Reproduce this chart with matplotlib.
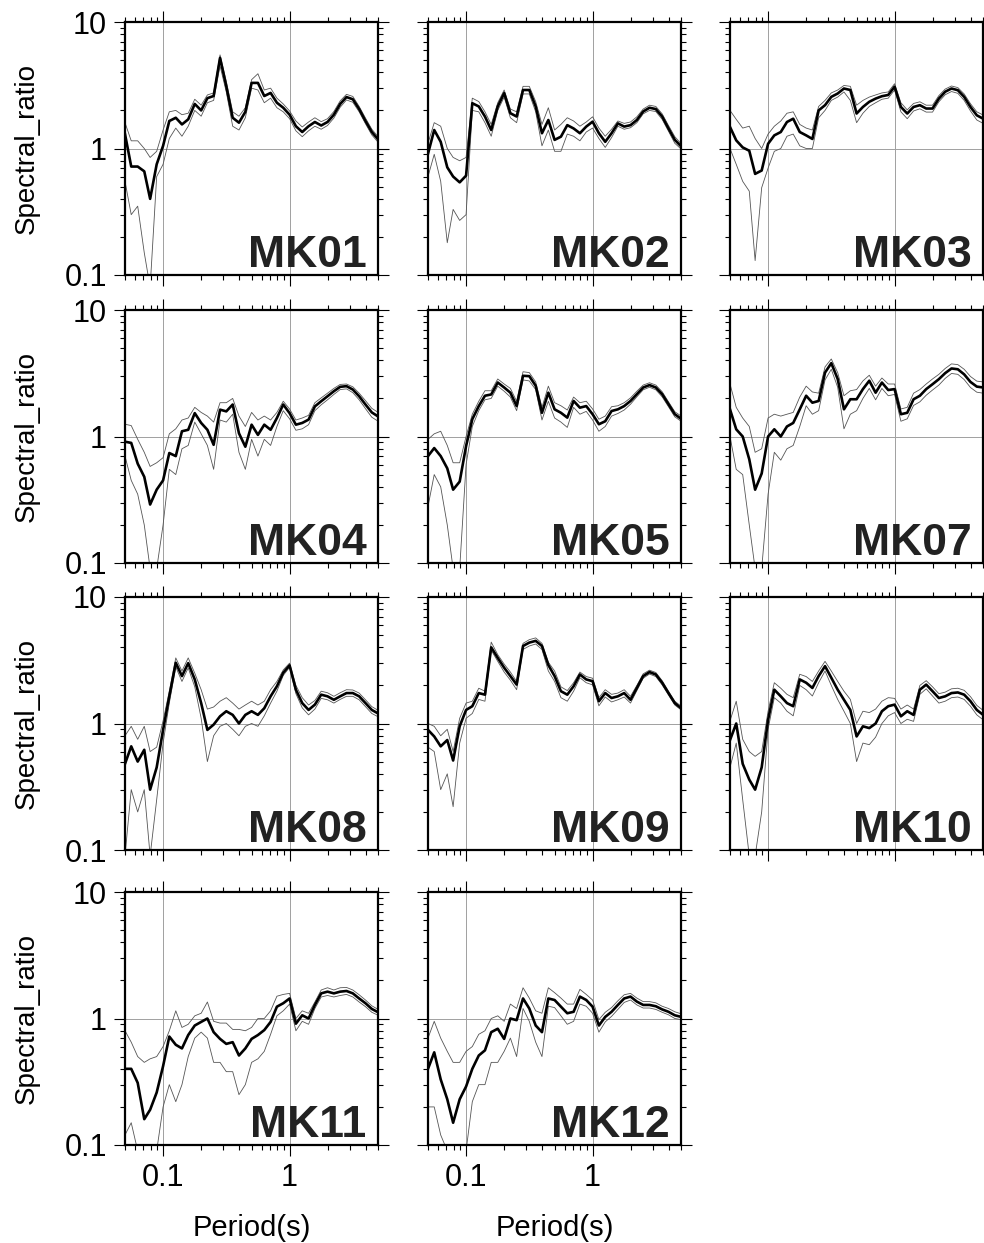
import matplotlib
matplotlib.use('Agg')
import matplotlib.pyplot as plt
from matplotlib.ticker import LogLocator, NullFormatter

plt.rcParams['font.family'] = ['Liberation Sans', 'DejaVu Sans']

# period axis (s), shared by all stations
period = [0.050, 0.056, 0.063, 0.071, 0.079, 0.089, 0.100, 0.112, 0.126, 0.141,
          0.158, 0.178, 0.200, 0.224, 0.251, 0.282, 0.316, 0.355, 0.398, 0.447,
          0.501, 0.562, 0.631, 0.708, 0.794, 0.891, 1.000, 1.122, 1.259, 1.413,
          1.585, 1.778, 1.995, 2.239, 2.512, 2.818, 3.162, 3.548, 3.981, 4.467,
          5.012]

mk01_mean = [1.3, 0.72, 0.72, 0.66, 0.40, 0.75, 1.05, 1.65, 1.75, 1.55, 1.7, 2.25, 2.0, 2.5, 2.6, 5.2, 3.1, 1.75, 1.6, 1.95, 3.3, 3.3, 2.6, 2.75, 2.3, 2.1, 1.85, 1.5, 1.35, 1.5, 1.62, 1.52, 1.62, 1.85, 2.25, 2.55, 2.45, 2.05, 1.65, 1.35, 1.18]
mk01_upper = [1.6, 1.15, 1.15, 1.0, 0.85, 0.95, 1.4, 1.95, 2.0, 1.85, 1.9, 2.45, 2.2, 2.65, 2.75, 5.5, 3.4, 1.95, 1.8, 2.1, 3.5, 3.9, 2.9, 3.0, 2.5, 2.25, 1.98, 1.65, 1.48, 1.62, 1.75, 1.63, 1.72, 1.96, 2.38, 2.68, 2.58, 2.15, 1.74, 1.42, 1.24]
mk01_lower = [0.55, 0.3, 0.35, 0.15, 0.08, 0.6, 0.75, 1.2, 1.45, 1.25, 1.5, 2.0, 1.8, 2.3, 2.4, 4.5, 2.8, 1.5, 1.4, 1.75, 3.0, 2.9, 2.3, 2.5, 2.1, 1.95, 1.72, 1.38, 1.24, 1.38, 1.5, 1.42, 1.52, 1.74, 2.12, 2.42, 2.32, 1.95, 1.57, 1.28, 1.12]

mk02_mean = [0.91, 1.4, 1.13, 0.71, 0.6, 0.54, 0.61, 2.28, 2.15, 1.79, 1.4, 2.15, 2.74, 1.9, 1.79, 2.9, 2.9, 2.15, 1.32, 1.68, 1.17, 1.24, 1.53, 1.44, 1.32, 1.49, 1.63, 1.32, 1.13, 1.32, 1.58, 1.49, 1.53, 1.68, 1.96, 2.1, 2.05, 1.79, 1.44, 1.17, 1.04]
mk02_upper = [1.1, 1.6, 1.5, 1.0, 0.85, 0.8, 0.85, 2.5, 2.35, 1.95, 1.55, 2.3, 2.9, 2.05, 1.95, 3.1, 3.1, 2.35, 1.55, 2.1, 1.4, 1.55, 1.75, 1.65, 1.5, 1.62, 1.78, 1.45, 1.25, 1.42, 1.65, 1.58, 1.62, 1.78, 2.05, 2.2, 2.15, 1.88, 1.52, 1.24, 1.09]
mk02_lower = [0.6, 0.9, 0.55, 0.18, 0.33, 0.27, 0.3, 2.0, 1.95, 1.6, 1.25, 2.0, 2.55, 1.75, 1.6, 2.7, 2.7, 1.95, 1.05, 1.4, 0.95, 0.95, 1.3, 1.25, 1.15, 1.35, 1.45, 1.2, 1.02, 1.22, 1.5, 1.42, 1.46, 1.6, 1.88, 2.0, 1.96, 1.7, 1.37, 1.1, 0.99]

mk03_mean = [1.48, 1.16, 1.02, 0.96, 0.63, 0.67, 1.09, 1.27, 1.35, 1.62, 1.72, 1.35, 1.27, 1.19, 2.0, 2.2, 2.56, 2.72, 2.98, 2.9, 1.89, 2.13, 2.34, 2.48, 2.59, 2.65, 3.08, 2.13, 1.89, 2.13, 2.2, 2.07, 2.07, 2.48, 2.81, 2.98, 2.89, 2.56, 2.13, 1.83, 1.72]
mk03_upper = [2.0, 1.7, 1.45, 1.5, 1.2, 1.0, 1.3, 1.5, 1.65, 1.9, 1.95, 1.55, 1.45, 1.4, 2.15, 2.4, 2.75, 2.9, 3.15, 3.1, 2.2, 2.4, 2.55, 2.65, 2.75, 2.8, 3.25, 2.3, 2.02, 2.27, 2.34, 2.2, 2.2, 2.62, 2.95, 3.12, 3.03, 2.7, 2.26, 1.95, 1.84]
mk03_lower = [1.0, 0.75, 0.55, 0.46, 0.13, 0.49, 0.7, 0.95, 1.0, 1.25, 1.3, 1.05, 1.0, 1.0, 1.75, 2.0, 2.4, 2.55, 2.8, 2.4, 1.6, 1.9, 2.15, 2.3, 2.45, 2.5, 2.9, 1.95, 1.72, 1.98, 2.06, 1.94, 1.94, 2.34, 2.66, 2.82, 2.73, 2.4, 1.98, 1.68, 1.58]

mk04_mean = [0.91, 0.89, 0.61, 0.48, 0.29, 0.38, 0.45, 0.74, 0.7, 1.1, 1.13, 1.53, 1.28, 1.13, 0.86, 1.63, 1.58, 1.79, 1.06, 0.83, 1.24, 1.03, 1.24, 1.13, 1.4, 1.79, 1.53, 1.24, 1.28, 1.36, 1.73, 1.9, 2.08, 2.28, 2.47, 2.5, 2.35, 2.08, 1.79, 1.55, 1.44]
mk04_upper = [1.25, 1.22, 0.95, 0.75, 0.58, 0.62, 0.68, 1.05, 1.15, 1.35, 1.4, 1.7, 1.55, 1.45, 1.3, 1.85, 1.85, 2.0, 1.45, 1.2, 1.55, 1.35, 1.45, 1.35, 1.55, 1.9, 1.65, 1.35, 1.4, 1.47, 1.85, 2.02, 2.2, 2.4, 2.58, 2.6, 2.47, 2.2, 1.92, 1.67, 1.55]
mk04_lower = [0.7, 0.45, 0.35, 0.2, 0.09, 0.09, 0.2, 0.55, 0.5, 0.8, 0.85, 1.3, 1.05, 0.85, 0.55, 1.35, 1.3, 1.5, 0.75, 0.55, 0.95, 0.7, 0.95, 0.85, 1.2, 1.6, 1.38, 1.12, 1.15, 1.24, 1.6, 1.78, 1.95, 2.15, 2.35, 2.38, 2.22, 1.95, 1.66, 1.42, 1.32]

mk05_mean = [0.70, 0.81, 0.70, 0.56, 0.38, 0.44, 0.84, 1.37, 1.74, 2.1, 2.15, 2.67, 2.44, 2.22, 1.74, 3.02, 3.0, 2.52, 1.54, 2.22, 1.64, 1.54, 1.41, 1.91, 1.69, 1.74, 1.5, 1.25, 1.32, 1.59, 1.64, 1.74, 1.91, 2.16, 2.44, 2.55, 2.44, 2.16, 1.8, 1.5, 1.38]
mk05_upper = [0.95, 1.05, 1.1, 0.85, 0.62, 0.62, 1.0, 1.5, 1.9, 2.3, 2.3, 2.85, 2.6, 2.4, 1.9, 3.25, 3.2, 2.7, 1.7, 2.5, 1.85, 1.75, 1.62, 2.05, 1.85, 1.9, 1.65, 1.37, 1.45, 1.72, 1.75, 1.85, 2.02, 2.28, 2.55, 2.66, 2.55, 2.26, 1.88, 1.57, 1.45]
mk05_lower = [0.28, 0.5, 0.4, 0.2, 0.09, 0.09, 0.6, 1.2, 1.6, 1.95, 2.0, 2.5, 2.28, 2.05, 1.6, 2.8, 2.75, 2.35, 1.35, 1.9, 1.4, 1.3, 1.18, 1.7, 1.5, 1.58, 1.35, 1.1, 1.2, 1.45, 1.52, 1.62, 1.8, 2.06, 2.34, 2.45, 2.34, 2.06, 1.72, 1.43, 1.32]

mk07_mean = [1.64, 1.14, 1.0, 0.66, 0.38, 0.51, 1.0, 1.14, 1.0, 1.2, 1.28, 1.64, 2.1, 1.85, 1.91, 3.2, 3.8, 2.85, 1.64, 1.97, 1.97, 2.37, 2.76, 2.22, 2.67, 2.33, 2.37, 1.5, 1.54, 1.97, 2.1, 2.37, 2.59, 2.84, 3.17, 3.45, 3.4, 3.1, 2.7, 2.48, 2.44]
mk07_upper = [2.6, 1.7, 1.4, 1.2, 0.75, 0.8, 1.4, 1.5, 1.45, 1.5, 1.55, 2.05, 2.5, 2.25, 2.2, 3.55, 4.1, 3.2, 2.1, 2.3, 2.35, 2.75, 3.05, 2.5, 2.9, 2.6, 2.6, 1.65, 1.7, 2.2, 2.35, 2.6, 2.85, 3.1, 3.45, 3.75, 3.7, 3.4, 2.98, 2.74, 2.7]
mk07_lower = [1.0, 0.55, 0.5, 0.2, 0.09, 0.09, 0.35, 0.75, 0.65, 0.8, 0.85, 1.2, 1.75, 1.5, 1.6, 2.8, 3.4, 2.45, 1.15, 1.5, 1.6, 2.0, 2.4, 1.95, 2.4, 2.1, 2.15, 1.32, 1.38, 1.76, 1.88, 2.12, 2.33, 2.55, 2.88, 3.15, 3.1, 2.82, 2.44, 2.24, 2.2]

mk08_mean = [0.48, 0.66, 0.5, 0.62, 0.30, 0.45, 0.89, 1.64, 3.02, 2.37, 3.0, 2.23, 1.45, 0.89, 0.98, 1.14, 1.25, 1.17, 1.0, 1.17, 1.25, 1.17, 1.32, 1.64, 1.97, 2.52, 2.88, 1.85, 1.45, 1.28, 1.41, 1.69, 1.64, 1.54, 1.64, 1.74, 1.74, 1.64, 1.45, 1.28, 1.2]
mk08_upper = [0.8, 0.95, 0.75, 0.95, 0.6, 0.65, 1.05, 1.8, 3.3, 2.6, 3.3, 2.5, 1.85, 1.3, 1.35, 1.5, 1.6, 1.45, 1.3, 1.4, 1.5, 1.4, 1.5, 1.85, 2.15, 2.65, 3.0, 2.0, 1.6, 1.4, 1.52, 1.8, 1.75, 1.64, 1.75, 1.85, 1.84, 1.74, 1.54, 1.36, 1.27]
mk08_lower = [0.09, 0.3, 0.2, 0.3, 0.09, 0.25, 0.7, 1.45, 2.8, 2.15, 2.75, 1.95, 1.1, 0.5, 0.8, 0.95, 1.0, 0.9, 0.8, 0.95, 1.0, 0.95, 1.15, 1.45, 1.8, 2.4, 2.78, 1.72, 1.33, 1.17, 1.3, 1.58, 1.54, 1.45, 1.55, 1.64, 1.64, 1.54, 1.36, 1.2, 1.13]

mk09_mean = [0.89, 0.79, 0.66, 0.74, 0.51, 0.95, 1.28, 1.37, 1.74, 1.69, 4.0, 3.3, 2.76, 2.37, 2.03, 4.1, 4.36, 4.5, 4.1, 2.9, 2.37, 1.8, 1.69, 1.97, 2.44, 2.23, 2.16, 1.5, 1.74, 1.59, 1.64, 1.74, 1.54, 1.91, 2.37, 2.55, 2.44, 2.1, 1.74, 1.45, 1.32]
mk09_upper = [1.0, 0.95, 0.8, 0.9, 0.6, 1.1, 1.45, 1.5, 1.9, 1.8, 4.4, 3.5, 2.95, 2.55, 2.15, 4.3, 4.6, 4.75, 4.3, 3.05, 2.6, 1.95, 1.82, 2.1, 2.55, 2.35, 2.28, 1.6, 1.85, 1.7, 1.74, 1.85, 1.64, 2.0, 2.47, 2.64, 2.53, 2.18, 1.8, 1.5, 1.37]
mk09_lower = [0.65, 0.6, 0.3, 0.4, 0.22, 0.7, 1.1, 1.2, 1.55, 1.5, 3.8, 3.1, 2.55, 2.2, 1.85, 3.85, 4.1, 4.25, 3.85, 2.6, 2.15, 1.6, 1.5, 1.8, 2.3, 2.1, 2.02, 1.38, 1.62, 1.48, 1.54, 1.62, 1.45, 1.82, 2.28, 2.46, 2.35, 2.02, 1.68, 1.4, 1.28]

mk10_mean = [0.74, 1.0, 0.48, 0.36, 0.30, 0.45, 1.07, 1.85, 1.64, 1.45, 1.37, 2.23, 2.1, 1.91, 2.37, 2.84, 2.3, 1.85, 1.54, 1.28, 0.79, 0.95, 0.92, 1.0, 1.25, 1.37, 1.41, 1.14, 1.25, 1.17, 1.85, 2.03, 1.8, 1.59, 1.64, 1.74, 1.76, 1.69, 1.5, 1.28, 1.17]
mk10_upper = [1.05, 1.5, 0.75, 0.6, 0.55, 0.6, 1.25, 2.1, 1.9, 1.7, 1.6, 2.45, 2.35, 2.15, 2.6, 3.1, 2.6, 2.15, 1.8, 1.55, 1.0, 1.25, 1.22, 1.3, 1.5, 1.6, 1.58, 1.3, 1.4, 1.3, 2.0, 2.18, 1.95, 1.72, 1.77, 1.88, 1.9, 1.83, 1.63, 1.39, 1.27]
mk10_lower = [0.45, 0.7, 0.25, 0.09, 0.09, 0.2, 0.9, 1.6, 1.45, 1.25, 1.15, 2.0, 1.85, 1.65, 2.1, 2.6, 2.0, 1.55, 1.25, 1.0, 0.5, 0.7, 0.68, 0.78, 1.0, 1.15, 1.22, 1.0, 1.08, 1.04, 1.7, 1.88, 1.65, 1.45, 1.5, 1.6, 1.62, 1.55, 1.37, 1.17, 1.07]

mk11_mean = [0.4, 0.4, 0.31, 0.16, 0.19, 0.26, 0.42, 0.72, 0.62, 0.58, 0.74, 0.88, 0.94, 1.0, 0.78, 0.69, 0.63, 0.65, 0.51, 0.58, 0.69, 0.74, 0.81, 0.94, 1.24, 1.32, 1.44, 0.91, 1.06, 1.0, 1.28, 1.58, 1.63, 1.58, 1.63, 1.65, 1.58, 1.44, 1.32, 1.19, 1.12]
mk11_upper = [0.8, 0.65, 0.5, 0.45, 0.48, 0.5, 0.6, 0.8, 1.15, 0.85, 0.9, 1.05, 1.1, 1.35, 0.95, 0.92, 0.92, 0.82, 0.82, 0.8, 0.85, 1.0, 1.0, 1.15, 1.5, 1.55, 1.58, 1.0, 1.15, 1.1, 1.35, 1.68, 1.75, 1.68, 1.75, 1.76, 1.68, 1.54, 1.4, 1.26, 1.18]
mk11_lower = [0.12, 0.15, 0.09, 0.09, 0.09, 0.09, 0.2, 0.3, 0.22, 0.3, 0.5, 0.7, 0.78, 0.7, 0.45, 0.45, 0.38, 0.38, 0.25, 0.3, 0.45, 0.48, 0.55, 0.75, 1.05, 1.15, 1.3, 0.8, 0.95, 0.9, 1.2, 1.48, 1.52, 1.48, 1.52, 1.55, 1.48, 1.35, 1.24, 1.12, 1.06]

mk12_mean = [0.4, 0.54, 0.33, 0.23, 0.15, 0.23, 0.29, 0.4, 0.51, 0.56, 0.78, 0.83, 0.69, 1.0, 0.97, 1.44, 1.2, 0.88, 0.78, 1.44, 1.4, 1.24, 1.1, 1.13, 1.49, 1.4, 1.24, 0.88, 1.03, 1.13, 1.28, 1.44, 1.49, 1.36, 1.28, 1.28, 1.25, 1.18, 1.13, 1.06, 1.03]
mk12_upper = [0.7, 0.95, 0.7, 0.55, 0.45, 0.45, 0.55, 0.6, 0.75, 0.8, 1.0, 1.05, 0.95, 1.3, 1.2, 1.75, 1.45, 1.15, 1.1, 1.75, 1.6, 1.45, 1.3, 1.3, 1.7, 1.55, 1.4, 0.98, 1.12, 1.22, 1.38, 1.54, 1.58, 1.45, 1.36, 1.36, 1.33, 1.25, 1.2, 1.13, 1.09]
mk12_lower = [0.2, 0.2, 0.12, 0.09, 0.09, 0.09, 0.09, 0.22, 0.3, 0.3, 0.45, 0.45, 0.55, 0.7, 0.5, 1.2, 0.95, 0.65, 0.5, 1.25, 1.22, 1.05, 0.9, 0.95, 1.3, 1.25, 1.1, 0.78, 0.94, 1.04, 1.18, 1.34, 1.4, 1.28, 1.21, 1.21, 1.18, 1.12, 1.07, 1.0, 0.98]

stations = ['MK01', 'MK02', 'MK03', 'MK04', 'MK05', 'MK07',
            'MK08', 'MK09', 'MK10', 'MK11', 'MK12']
means = [mk01_mean, mk02_mean, mk03_mean, mk04_mean, mk05_mean, mk07_mean,
         mk08_mean, mk09_mean, mk10_mean, mk11_mean, mk12_mean]
uppers = [mk01_upper, mk02_upper, mk03_upper, mk04_upper, mk05_upper, mk07_upper,
          mk08_upper, mk09_upper, mk10_upper, mk11_upper, mk12_upper]
lowers = [mk01_lower, mk02_lower, mk03_lower, mk04_lower, mk05_lower, mk07_lower,
          mk08_lower, mk09_lower, mk10_lower, mk11_lower, mk12_lower]

W, H = 984, 1243
col_left = [125, 428, 730]
row_top = [22, 310, 597, 892]
size = 253

fig = plt.figure(figsize=(W / 100, H / 100), dpi=100)

for i, name in enumerate(stations):
    row, col = divmod(i, 3)
    left, top = col_left[col], row_top[row]
    ax = fig.add_axes([left / W, 1 - (top + size) / H, size / W, size / H])
    ax.set_xscale('log')
    ax.set_yscale('log')
    ax.set_xlim(0.05, 5)
    ax.set_ylim(0.1, 10)

    ax.plot(period, uppers[i], color='#555555', lw=0.6)
    ax.plot(period, lowers[i], color='#555555', lw=0.6)
    ax.plot(period, means[i], color='black', lw=1.9)

    ax.set_xticks([0.1, 1], ['0.1', '1'])
    ax.set_yticks([0.1, 1, 10], ['0.1', '1', '10'])
    ax.xaxis.set_minor_locator(LogLocator(base=10, subs=range(2, 10)))
    ax.yaxis.set_minor_locator(LogLocator(base=10, subs=range(2, 10)))
    ax.xaxis.set_minor_formatter(NullFormatter())
    ax.yaxis.set_minor_formatter(NullFormatter())

    ax.grid(True, which='major', color='#a0a0a0', lw=0.7)
    ax.tick_params(which='both', direction='out', top=True, right=True,
                   width=0.8, labelsize=22,
                   labelleft=(col == 0), labelbottom=(row == 3))
    ax.tick_params(which='major', length=8, pad=5)
    ax.tick_params(which='minor', length=3.5)
    for sp in ax.spines.values():
        sp.set_linewidth(1.6)

    ax.text(0.955, 0.032, name, transform=ax.transAxes, ha='right',
            va='baseline', fontsize=32, fontweight='bold', color='#222222',
            family=['Liberation Sans', 'DejaVu Sans'])

    if col == 0:
        fig.text(27 / W, 1 - (top + size / 2) / H, 'Spectral_ratio',
                 rotation=90, ha='center', va='center', fontsize=20)
    if row == 3:
        fig.text((left + size / 2) / W, 1 - 1228 / H, 'Period(s)',
                 ha='center', va='center', fontsize=21)

fig.savefig('out.png', dpi=100)
